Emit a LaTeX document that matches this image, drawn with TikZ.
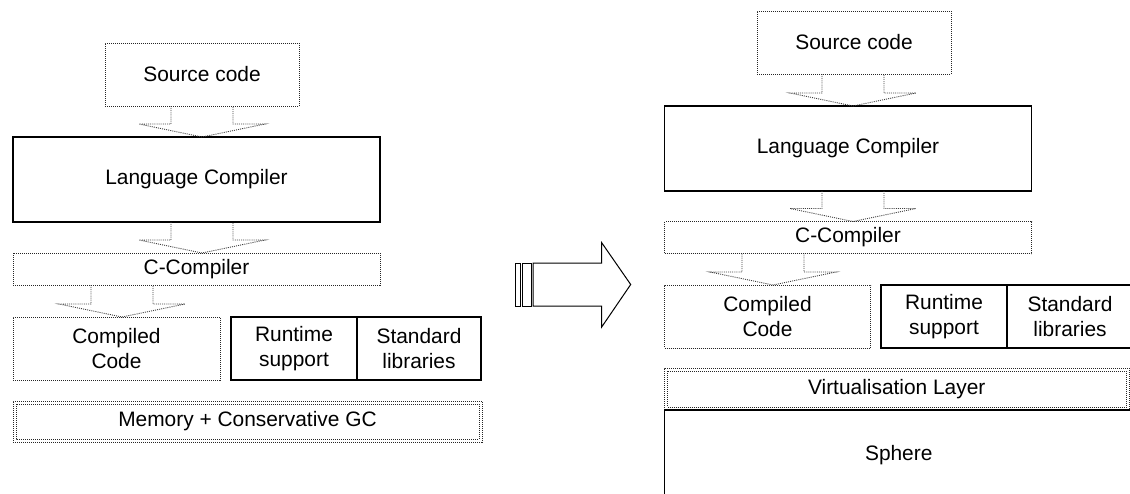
\documentclass[tikz,border=0pt]{standalone}
\usepackage{fontspec}
\setmainfont{Liberation Sans}
\usetikzlibrary{calc}

\tikzset{
  every node/.style={font=\fontsize{20.9}{24.5}\selectfont, align=center,
                     inner sep=0pt, outer sep=0pt, rectangle},
  solidbox/.style={draw=black, line width=1.1pt},
  dotbox/.style={draw=black!85, line width=1pt, dash pattern=on 1pt off 1pt},
  dotline/.style={draw=black!85, line width=1pt, dash pattern=on 1pt off 1pt},
  blockarrow/.style={draw=black!75, line width=0.9pt, dash pattern=on 1pt off 1.1pt,
                     line join=miter},
  bigarrow/.style={draw=black, line width=1pt, fill=white, line join=miter},
  stripe/.style={draw=black, line width=0.7pt, fill=white},
}

% hollow block arrow from the bottom of one box to the top of the next,
% centred on the given x position
\newcommand\blockarr[3]{%
  \draw[blockarrow] let \p1=(#1.south), \p2=(#2.north) in
    (#3pt-31pt,\y1) -- (#3pt-31pt,\y2+13pt) -- (#3pt-63pt,\y2+13pt) -- (#3pt,\y2)
    -- (#3pt+63pt,\y2+13pt) -- (#3pt+31pt,\y2+13pt) -- (#3pt+31pt,\y1);
}
% second dotted outline just inside a layer box
\newcommand\innerframe[1]{%
  \draw[dotline] ($(#1.north west)+(3,3)$) rectangle ($(#1.south east)+(-3,-3)$);
}

\begin{document}
\begin{tikzpicture}[x=1pt, y=-1pt]
\useasboundingbox (0,0) rectangle (1130,493);
\clip (0,0) rectangle (1130,493);
\fill[white] (0,0) rectangle (1130,493);

% ---------- conventional tool chain ----------
\node[dotbox, minimum width=194pt, minimum height=63pt] (srcL) at (202,74.5) {Source code};
\node[solidbox, minimum width=367pt, minimum height=85pt] (lcL) at (196.5,179.5) {Language Compiler};
\node[dotbox, minimum width=367pt, minimum height=32pt] (ccL) at (196.5,269) {C-Compiler};
\node[dotbox, minimum width=207pt, minimum height=63pt] (codeL) at (116.5,348.5) {Compiled\\Code};
\node[solidbox, minimum width=126pt, minimum height=63pt] (rtL) at (294,348.5) {Runtime\\support};
\node[solidbox, minimum width=124pt, minimum height=63pt] (stdL) at (419,348.5) {Standard\\libraries};
\node[dotbox, minimum width=469pt, minimum height=41pt] (memL) at (247.5,421.5) {Memory + Conservative GC};
\innerframe{memL}

\blockarr{srcL}{lcL}{202}
\blockarr{lcL}{ccL}{202}
\blockarr{ccL}{codeL}{122}

% ---------- transition arrow ----------
\draw[stripe] (515.7,263) rectangle (520,306);
\draw[stripe] (522.7,263) rectangle (531,306);
\draw[bigarrow] (533,263) -- (601.7,263) -- (601.7,242.7) -- (630.7,284.5)
  -- (601.7,327) -- (601.7,306) -- (533,306) -- cycle;

% ---------- tool chain on the virtualisation layer ----------
\node[dotbox, minimum width=194pt, minimum height=63pt] (srcR) at (854,42.5) {Source code};
\node[solidbox, minimum width=367pt, minimum height=85pt] (lcR) at (848,148.5) {Language Compiler};
\node[dotbox, minimum width=367pt, minimum height=32pt] (ccR) at (848,237.5) {C-Compiler};
\node[dotbox, minimum width=206pt, minimum height=63pt] (codeR) at (767.5,316.5) {Compiled\\Code};
\node[solidbox, minimum width=126pt, minimum height=63pt] (rtR) at (944,316.5) {Runtime\\support};
\node[solidbox, minimum width=126pt, minimum height=63pt] (stdR) at (1070,316.5) {Standard\\libraries};
\node[dotbox, minimum width=464.5pt, minimum height=42pt] (virtR) at (896.75,389) {Virtualisation Layer};
\innerframe{virtR}
\node[solidbox, minimum width=468.5pt, minimum height=90pt] (sphR) at (898.75,455) {Sphere};

\blockarr{srcR}{lcR}{853}
\blockarr{lcR}{ccR}{853}
\blockarr{ccR}{codeR}{773}
\end{tikzpicture}
\end{document}
